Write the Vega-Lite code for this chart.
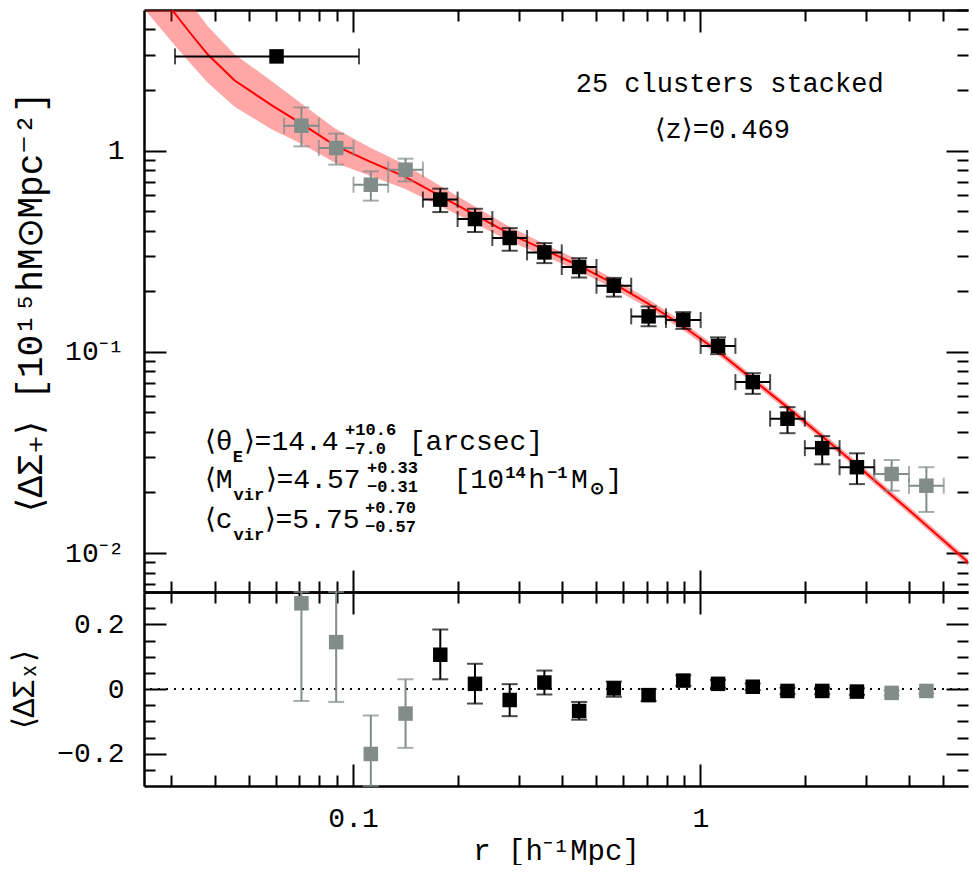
{
  "$schema": "https://vega.github.io/schema/vega-lite/v6.json",
  "padding": {"left": 8, "top": 9, "right": 0, "bottom": 0},
  "background": "white",
  "spacing": 0,
  "bounds": "flush",
  "config": {
    "view": {"stroke": null},
    "font": "Liberation Mono",
    "axis": {
      "grid": false, "domainColor": "black", "domainWidth": 2.5, "tickColor": "black", "tickWidth": 2,
      "labelFont": "Liberation Mono", "labelFontSize": 28, "labelColor": "black", "labelOverlap": false, "labelFlush": false,
      "titleFont": "Liberation Mono", "titleFontSize": 31, "titleFontWeight": "normal", "titleColor": "black"
    }
  },
  "datasets": {
    "pts": [
      {"r": 0.0602, "xlo": 0.0307, "xhi": 0.104, "v": 2.94, "g": "used"},
      {"r": 0.0710, "xlo": 0.0633, "xhi": 0.0797, "v": 1.33, "vlo": 1.05, "vhi": 1.64, "g": "excluded"},
      {"r": 0.0894, "xlo": 0.0797, "xhi": 0.1003, "v": 1.03, "vlo": 0.852, "vhi": 1.215, "g": "excluded"},
      {"r": 0.1125, "xlo": 0.1003, "xhi": 0.1262, "v": 0.677, "vlo": 0.564, "vhi": 0.789, "g": "excluded"},
      {"r": 0.1416, "xlo": 0.1262, "xhi": 0.1589, "v": 0.804, "vlo": 0.703, "vhi": 0.912, "g": "excluded"},
      {"r": 0.1783, "xlo": 0.1589, "xhi": 0.2000, "v": 0.571, "vlo": 0.495, "vhi": 0.647, "g": "used"},
      {"r": 0.2244, "xlo": 0.2000, "xhi": 0.2518, "v": 0.457, "vlo": 0.394, "vhi": 0.514, "g": "used"},
      {"r": 0.2825, "xlo": 0.2518, "xhi": 0.3170, "v": 0.368, "vlo": 0.318, "vhi": 0.412, "g": "used"},
      {"r": 0.3556, "xlo": 0.3170, "xhi": 0.3990, "v": 0.312, "vlo": 0.276, "vhi": 0.347, "g": "used"},
      {"r": 0.4477, "xlo": 0.3990, "xhi": 0.5023, "v": 0.264, "vlo": 0.234, "vhi": 0.292, "g": "used"},
      {"r": 0.5636, "xlo": 0.5023, "xhi": 0.6324, "v": 0.213, "vlo": 0.188, "vhi": 0.233, "g": "used"},
      {"r": 0.7096, "xlo": 0.6324, "xhi": 0.7962, "v": 0.150, "vlo": 0.134, "vhi": 0.168, "g": "used"},
      {"r": 0.8933, "xlo": 0.7962, "xhi": 1.0023, "v": 0.144, "vlo": 0.130, "vhi": 0.1575, "g": "used"},
      {"r": 1.1246, "xlo": 1.0023, "xhi": 1.2618, "v": 0.107, "vlo": 0.0974, "vhi": 0.118, "g": "used"},
      {"r": 1.4158, "xlo": 1.2618, "xhi": 1.5885, "v": 0.0707, "vlo": 0.0618, "vhi": 0.0783, "g": "used"},
      {"r": 1.7824, "xlo": 1.5885, "xhi": 1.9999, "v": 0.0465, "vlo": 0.0394, "vhi": 0.0531, "g": "used"},
      {"r": 2.2439, "xlo": 1.9999, "xhi": 2.5177, "v": 0.0332, "vlo": 0.0276, "vhi": 0.0381, "g": "used"},
      {"r": 2.8249, "xlo": 2.5177, "xhi": 3.1696, "v": 0.0267, "vlo": 0.0220, "vhi": 0.0313, "g": "used"},
      {"r": 3.5563, "xlo": 3.1696, "xhi": 3.9903, "v": 0.0247, "vlo": 0.0204, "vhi": 0.0290, "g": "excluded"},
      {"r": 4.4771, "xlo": 3.9903, "xhi": 5.0235, "v": 0.0216, "vlo": 0.0160, "vhi": 0.0267, "g": "excluded"}
    ],
    "resid": [
      {"r": 0.0710, "w": 0.265, "wlo": -0.037, "whi": 0.567, "g": "excluded"},
      {"r": 0.0894, "w": 0.145, "wlo": -0.040, "whi": 0.33, "g": "excluded"},
      {"r": 0.1125, "w": -0.201, "wlo": -0.32, "whi": -0.082, "g": "excluded"},
      {"r": 0.1416, "w": -0.076, "wlo": -0.182, "whi": 0.030, "g": "excluded"},
      {"r": 0.1783, "w": 0.106, "wlo": 0.030, "whi": 0.184, "g": "used"},
      {"r": 0.2244, "w": 0.016, "wlo": -0.045, "whi": 0.078, "g": "used"},
      {"r": 0.2825, "w": -0.034, "wlo": -0.084, "whi": 0.015, "g": "used"},
      {"r": 0.3556, "w": 0.020, "wlo": -0.017, "whi": 0.057, "g": "used"},
      {"r": 0.4477, "w": -0.068, "wlo": -0.095, "whi": -0.040, "g": "used"},
      {"r": 0.5636, "w": 0.002, "wlo": -0.024, "whi": 0.023, "g": "used"},
      {"r": 0.7096, "w": -0.019, "wlo": -0.037, "whi": 0.000, "g": "used"},
      {"r": 0.8933, "w": 0.026, "wlo": 0.010, "whi": 0.042, "g": "used"},
      {"r": 1.1246, "w": 0.016, "wlo": 0.004, "whi": 0.028, "g": "used"},
      {"r": 1.4158, "w": 0.007, "wlo": -0.003, "whi": 0.017, "g": "used"},
      {"r": 1.7824, "w": -0.006, "wlo": -0.016, "whi": 0.004, "g": "used"},
      {"r": 2.2439, "w": -0.006, "wlo": -0.016, "whi": 0.004, "g": "used"},
      {"r": 2.8249, "w": -0.008, "wlo": -0.018, "whi": 0.002, "g": "used"},
      {"r": 3.5563, "w": -0.012, "wlo": -0.020, "whi": -0.004, "g": "excluded"},
      {"r": 4.4771, "w": -0.006, "wlo": -0.014, "whi": 0.002, "g": "excluded"}
    ],
    "model": [
      {"r": 0.0251, "m": 7.45, "lo": 5.037, "hi": 11.02},
      {"r": 0.03004, "m": 5.030, "lo": 3.480, "hi": 7.270},
      {"r": 0.03388, "m": 3.865, "lo": 2.736, "hi": 5.459},
      {"r": 0.03817, "m": 3.004, "lo": 2.176, "hi": 4.147},
      {"r": 0.04560, "m": 2.230, "lo": 1.653, "hi": 3.008},
      {"r": 0.05821, "m": 1.684, "lo": 1.277, "hi": 2.220},
      {"r": 0.07096, "m": 1.362, "lo": 1.082, "hi": 1.715},
      {"r": 0.08878, "m": 1.059, "lo": 0.8707, "hi": 1.288},
      {"r": 0.11186, "m": 0.8815, "lo": 0.7503, "hi": 1.0357},
      {"r": 0.14093, "m": 0.7423, "lo": 0.6465, "hi": 0.8523},
      {"r": 0.17750, "m": 0.5972, "lo": 0.5323, "hi": 0.6701},
      {"r": 0.22367, "m": 0.4803, "lo": 0.4360, "hi": 0.5291},
      {"r": 0.28175, "m": 0.3865, "lo": 0.3558, "hi": 0.4199},
      {"r": 0.35490, "m": 0.3218, "lo": 0.3003, "hi": 0.3448},
      {"r": 0.44710, "m": 0.2679, "lo": 0.2518, "hi": 0.2851},
      {"r": 0.56320, "m": 0.2180, "lo": 0.2063, "hi": 0.2304},
      {"r": 0.70958, "m": 0.1733, "lo": 0.1647, "hi": 0.1823},
      {"r": 0.88784, "m": 0.1347, "lo": 0.1286, "hi": 0.1410},
      {"r": 1.1187, "m": 0.1012, "lo": 0.0971, "hi": 0.1055},
      {"r": 1.4094, "m": 0.07338, "lo": 0.0704, "hi": 0.0765},
      {"r": 1.7753, "m": 0.05325, "lo": 0.05109, "hi": 0.05550},
      {"r": 2.2365, "m": 0.03820, "lo": 0.03665, "hi": 0.03982},
      {"r": 2.8177, "m": 0.02740, "lo": 0.02629, "hi": 0.02856},
      {"r": 4.0766, "m": 0.01581, "lo": 0.01517, "hi": 0.01648},
      {"r": 5.900, "m": 0.009019, "lo": 0.008653, "hi": 0.009401},
      {"r": 6.2, "m": 0.008372, "lo": 0.00803, "hi": 0.00873}
    ],
    "notesBig": [
      {"t": "25 clusters stacked", "r": 1.215, "v": 1.966},
      {"t": "⟨z⟩=0.469", "r": 1.1563, "v": 1.1607}
    ],
    "notesMain": [
      {"t": "⟨θ", "r": 0.037412, "v": 0.032541},
      {"t": "⟩=14.4", "r": 0.048393, "v": 0.032541},
      {"t": "[arcsec]", "r": 0.14470, "v": 0.032541},
      {"t": "⟨M", "r": 0.037412, "v": 0.021055},
      {"t": "⟩=4.57", "r": 0.055965, "v": 0.021055},
      {"t": "[10", "r": 0.19472, "v": 0.021055},
      {"t": "h", "r": 0.31938, "v": 0.021055},
      {"t": "M", "r": 0.42414, "v": 0.021055},
      {"t": "]", "r": 0.53431, "v": 0.021055},
      {"t": "⟨c", "r": 0.037412, "v": 0.013317},
      {"t": "⟩=5.75", "r": 0.055596, "v": 0.013317}
    ],
    "notesSmall": [
      {"t": "E", "r": 0.044996, "v": 0.028356},
      {"t": "+10.6", "r": 0.094858, "v": 0.038642},
      {"t": "−7.0", "r": 0.094858, "v": 0.031084},
      {"t": "vir", "r": 0.045293, "v": 0.018350},
      {"t": "+0.33", "r": 0.10967, "v": 0.025004},
      {"t": "−0.31", "r": 0.10967, "v": 0.020114},
      {"t": "14", "r": 0.27443, "v": 0.023609},
      {"t": "−1", "r": 0.36203, "v": 0.023609},
      {"t": "⊙", "r": 0.48078, "v": 0.019653},
      {"t": "vir", "r": 0.045293, "v": 0.011606},
      {"t": "+0.70", "r": 0.10824, "v": 0.015813},
      {"t": "−0.57", "r": 0.10824, "v": 0.012720}
    ]
  },
  "vconcat": [
    {
      "width": 824,
      "height": 582,
      "resolve": {"axis": {"x": "independent", "y": "independent"}},
      "layer": [
        {
          "data": {"name": "model"},
          "mark": {"type": "area", "clip": true, "color": "#ff2020", "opacity": 0.4},
          "encoding": {
            "x": {"field": "r", "type": "quantitative", "scale": {"type": "log", "domain": [0.025, 5.9], "nice": false},
              "axis": {"orient": "top", "values": [0.03,0.04,0.05,0.06,0.07,0.08,0.09,0.1,0.2,0.3,0.4,0.5,0.6,0.7,0.8,0.9,1,2,3,4,5], "labels": false, "title": null,
                "tickSize": {"condition": {"test": "datum.value == 0.1 || datum.value == 1", "value": -22}, "value": -11}}},
            "y": {"field": "lo", "type": "quantitative", "scale": {"type": "log", "domain": [0.0064, 5], "nice": false},
              "axis": {"orient": "right", "values": [0.007,0.008,0.009,0.01,0.02,0.03,0.04,0.05,0.06,0.07,0.08,0.09,0.1,0.2,0.3,0.4,0.5,0.6,0.7,0.8,0.9,1,2,3,4,5], "labels": false, "title": null, "domain": false,
                "tickSize": {"condition": {"test": "datum.value == 1 || datum.value == 0.1 || datum.value == 0.01", "value": -22}, "value": -11}}},
            "y2": {"field": "hi"}
          }
        },
        {
          "data": {"name": "model"},
          "mark": {"type": "line", "clip": true, "color": "#ff0000", "strokeWidth": 2},
          "encoding": {
            "x": {"field": "r", "type": "quantitative", "scale": {"type": "log", "domain": [0.025, 5.9], "nice": false},
              "axis": {"orient": "bottom", "values": [0.03,0.04,0.05,0.06,0.07,0.08,0.09,0.1,0.2,0.3,0.4,0.5,0.6,0.7,0.8,0.9,1,2,3,4,5], "labels": false, "title": null,
                "tickSize": {"condition": {"test": "datum.value == 0.1 || datum.value == 1", "value": -22}, "value": -11}}},
            "y": {"field": "m", "type": "quantitative", "scale": {"type": "log", "domain": [0.0064, 5], "nice": false},
              "axis": {"orient": "left", "values": [0.007,0.008,0.009,0.01,0.02,0.03,0.04,0.05,0.06,0.07,0.08,0.09,0.1,0.2,0.3,0.4,0.5,0.6,0.7,0.8,0.9,1,2,3,4],
                "labelExpr": "datum.value == 1 ? '1' : datum.value == 0.1 ? '10⁻¹' : datum.value == 0.01 ? '10⁻²' : ''",
                "labelPadding": 42, "title": "⟨ΔΣ₊⟩ [10¹⁵hM⊙Mpc⁻²]", "titlePadding": 15, "titleFontSize": 36,
                "tickSize": {"condition": {"test": "datum.value == 1 || datum.value == 0.1 || datum.value == 0.01", "value": -22}, "value": -11}}}
          }
        },
        {
          "data": {"name": "pts"},
          "mark": {"type": "errorbar", "ticks": true, "size": 16, "thickness": 2},
          "encoding": {
            "x": {"field": "xlo", "type": "quantitative", "scale": {"type": "log", "domain": [0.025, 5.9], "nice": false}, "axis": null},
            "x2": {"field": "xhi"},
            "y": {"field": "v", "type": "quantitative", "scale": {"type": "log", "domain": [0.0064, 5], "nice": false}, "axis": null},
            "color": {"field": "g", "type": "nominal", "scale": {"domain": ["used", "excluded"], "range": ["#000000", "#828c89"]}, "legend": null}
          }
        },
        {
          "data": {"name": "pts"},
          "transform": [{"filter": {"field": "vlo", "valid": true}}],
          "mark": {"type": "errorbar", "ticks": true, "size": 16, "thickness": 2},
          "encoding": {
            "x": {"field": "r", "type": "quantitative", "scale": {"type": "log", "domain": [0.025, 5.9], "nice": false}, "axis": null},
            "y": {"field": "vlo", "type": "quantitative", "scale": {"type": "log", "domain": [0.0064, 5], "nice": false}, "axis": null},
            "y2": {"field": "vhi"},
            "color": {"field": "g", "type": "nominal", "scale": {"domain": ["used", "excluded"], "range": ["#000000", "#828c89"]}, "legend": null}
          }
        },
        {
          "data": {"name": "pts"},
          "mark": {"type": "square", "filled": true, "opacity": 1, "size": 210},
          "encoding": {
            "x": {"field": "r", "type": "quantitative", "scale": {"type": "log", "domain": [0.025, 5.9], "nice": false}, "axis": null},
            "y": {"field": "v", "type": "quantitative", "scale": {"type": "log", "domain": [0.0064, 5], "nice": false}, "axis": null},
            "color": {"field": "g", "type": "nominal", "scale": {"domain": ["used", "excluded"], "range": ["#000000", "#828c89"]}, "legend": null}
          }
        },
        {
          "data": {"name": "notesBig"},
          "mark": {"type": "text", "align": "center", "baseline": "alphabetic", "fontSize": 27, "font": "Liberation Mono", "color": "black"},
          "encoding": {
            "x": {"field": "r", "type": "quantitative", "scale": {"type": "log", "domain": [0.025, 5.9], "nice": false}, "axis": null},
            "y": {"field": "v", "type": "quantitative", "scale": {"type": "log", "domain": [0.0064, 5], "nice": false}, "axis": null},
            "text": {"field": "t"}
          }
        },
        {
          "data": {"name": "notesMain"},
          "mark": {"type": "text", "align": "left", "baseline": "alphabetic", "fontSize": 28, "font": "Liberation Mono", "color": "black"},
          "encoding": {
            "x": {"field": "r", "type": "quantitative", "scale": {"type": "log", "domain": [0.025, 5.9], "nice": false}, "axis": null},
            "y": {"field": "v", "type": "quantitative", "scale": {"type": "log", "domain": [0.0064, 5], "nice": false}, "axis": null},
            "text": {"field": "t"}
          }
        },
        {
          "data": {"name": "notesSmall"},
          "mark": {"type": "text", "align": "left", "baseline": "alphabetic", "fontSize": 17, "fontWeight": "bold", "font": "Liberation Mono", "color": "black"},
          "encoding": {
            "x": {"field": "r", "type": "quantitative", "scale": {"type": "log", "domain": [0.025, 5.9], "nice": false}, "axis": null},
            "y": {"field": "v", "type": "quantitative", "scale": {"type": "log", "domain": [0.0064, 5], "nice": false}, "axis": null},
            "text": {"field": "t"}
          }
        }
      ]
    },
    {
      "width": 824,
      "height": 194,
      "resolve": {"axis": {"x": "independent", "y": "independent"}},
      "layer": [
        {
          "data": {"values": [{}]},
          "mark": {"type": "rule", "strokeDash": [2, 6], "strokeWidth": 2, "color": "black"},
          "encoding": {
            "y": {"datum": 0, "type": "quantitative", "scale": {"domain": [-0.3, 0.3], "nice": false, "zero": false, "clamp": true}, "axis": null}
          }
        },
        {
          "data": {"name": "resid"},
          "mark": {"type": "errorbar", "ticks": true, "size": 16, "thickness": 2},
          "encoding": {
            "x": {"field": "r", "type": "quantitative", "scale": {"type": "log", "domain": [0.025, 5.9], "nice": false},
              "axis": {"orient": "top", "values": [0.03,0.04,0.05,0.06,0.07,0.08,0.09,0.1,0.2,0.3,0.4,0.5,0.6,0.7,0.8,0.9,1,2,3,4,5], "labels": false, "title": null,
                "tickSize": {"condition": {"test": "datum.value == 0.1 || datum.value == 1", "value": -22}, "value": -11}}},
            "y": {"field": "wlo", "type": "quantitative", "scale": {"domain": [-0.3, 0.3], "nice": false, "zero": false, "clamp": true},
              "axis": {"orient": "right", "values": [-0.25,-0.2,-0.15,-0.1,-0.05,0,0.05,0.1,0.15,0.2,0.25], "labels": false, "title": null, "domain": false,
                "tickSize": {"condition": {"test": "datum.value == 0 || datum.value == 0.2 || datum.value == -0.2", "value": -22}, "value": -11}}},
            "y2": {"field": "whi"},
            "color": {"field": "g", "type": "nominal", "scale": {"domain": ["used", "excluded"], "range": ["#000000", "#828c89"]}, "legend": null}
          }
        },
        {
          "data": {"name": "resid"},
          "mark": {"type": "square", "filled": true, "opacity": 1, "size": 210},
          "encoding": {
            "x": {"field": "r", "type": "quantitative", "scale": {"type": "log", "domain": [0.025, 5.9], "nice": false},
              "axis": {"orient": "bottom", "values": [0.03,0.04,0.05,0.06,0.07,0.08,0.09,0.1,0.2,0.3,0.4,0.5,0.6,0.7,0.8,0.9,1,2,3,4,5],
                "labelExpr": "datum.value == 0.1 ? '0.1' : datum.value == 1 ? '1' : ''", "labelPadding": 40,
                "title": "r [h⁻¹Mpc]", "titlePadding": -7, "titleFontSize": 29,
                "tickSize": {"condition": {"test": "datum.value == 0.1 || datum.value == 1", "value": -22}, "value": -11}}},
            "y": {"field": "w", "type": "quantitative", "scale": {"domain": [-0.3, 0.3], "nice": false, "zero": false, "clamp": true},
              "axis": {"orient": "left", "values": [-0.25,-0.2,-0.15,-0.1,-0.05,0,0.05,0.1,0.15,0.2,0.25],
                "labelExpr": "datum.value == 0 ? '0' : datum.value == 0.2 ? '0.2' : datum.value == -0.2 ? '−0.2' : ''",
                "labelPadding": 42, "title": "⟨ΔΣₓ⟩", "titlePadding": 16,
                "tickSize": {"condition": {"test": "datum.value == 0 || datum.value == 0.2 || datum.value == -0.2", "value": -22}, "value": -11}}},
            "color": {"field": "g", "type": "nominal", "scale": {"domain": ["used", "excluded"], "range": ["#000000", "#828c89"]}, "legend": null}
          }
        }
      ]
    }
  ]
}
